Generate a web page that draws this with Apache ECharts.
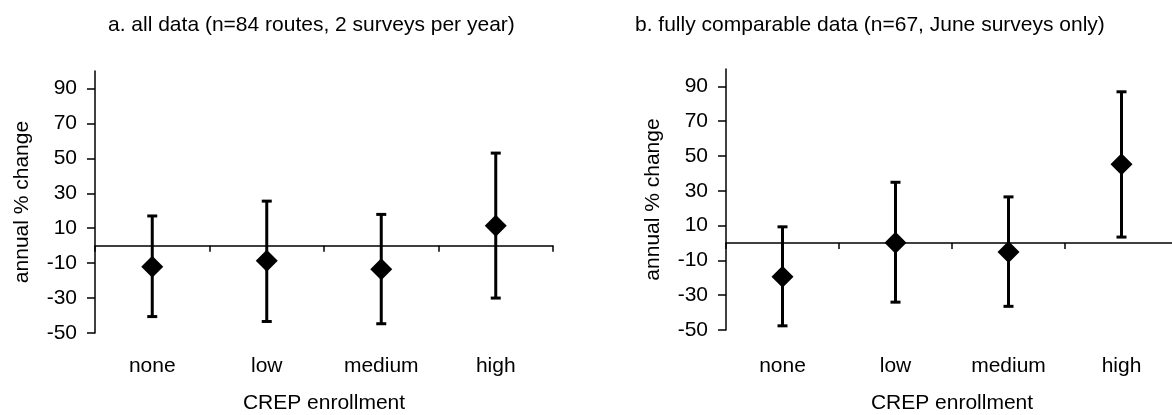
<!DOCTYPE html>
<html>
<head>
<meta charset="utf-8">
<script src="https://cdn.jsdelivr.net/npm/echarts@6/dist/echarts.min.js"></script>
<style>
    html, body { margin: 0; padding: 0; background: #fff; }
    #chart { width: 1172px; height: 415px; }
</style>
</head>
<body>
<div id="chart"></div>
<script>
    // CREP enrollment groups
    const categories = ['none', 'low', 'medium', 'high']
    // a. all data
    const meanA = [-12, -8.7, -13.5, 11.4]
    const lowerA = [-40.6, -43.4, -44.7, -30]
    const upperA = [17, 25.5, 17.9, 53]
    // b. fully comparable data
    const meanB = [-19.4, 0.1, -5.2, 45.2]
    const lowerB = [-47.6, -34, -36.4, 3.4]
    const upperB = [9.3, 34.9, 26.5, 86.9]
    const yTicks = [-50, -30, -10, 10, 30, 50, 70, 90]

    const font = 'Liberation Sans, Arial, sans-serif'
    const fs = 21

    function errorData (lower, upper) {
        return categories.map((c, i) => [i, lower[i], upper[i]])
    }

    function renderError (params, api) {
        let x = api.value(0)
        let top = api.coord([x, api.value(2)])
        let bot = api.coord([x, api.value(1)])
        let half = 5
        let style = {stroke: '#000', lineWidth: 3}
        return {
            type: 'group',
            children: [
                {type: 'line', shape: {x1: top[0], y1: top[1], x2: bot[0], y2: bot[1]}, style: style},
                {type: 'line', shape: {x1: top[0] - half, y1: top[1], x2: top[0] + half, y2: top[1]}, style: style},
                {type: 'line', shape: {x1: bot[0] - half, y1: bot[1], x2: bot[0] + half, y2: bot[1]}, style: style}
            ]
        }
    }

    // line + ticks along zero
    function zeroAxis (grid) {
        return {
            type: 'category',
            gridIndex: grid,
            data: categories,
            boundaryGap: true,
            axisLine: {onZero: true, lineStyle: {color: '#000', width: 1.5}},
            axisTick: {show: true, length: 6, lineStyle: {color: '#000', width: 1.5}},
            axisLabel: {show: false},
            splitLine: {show: false}
        }
    }

    // labels + name at the bottom of the grid
    function labelAxis (grid, margin, gap) {
        return {
            type: 'category',
            gridIndex: grid,
            position: 'bottom',
            data: categories,
            boundaryGap: true,
            axisLine: {show: false, onZero: false},
            axisTick: {show: false},
            axisLabel: {margin: margin, color: '#000', fontSize: fs, fontFamily: font},
            name: 'CREP enrollment',
            nameLocation: 'middle',
            nameGap: gap,
            nameTextStyle: {color: '#000', fontSize: fs, fontFamily: font},
            splitLine: {show: false}
        }
    }

    function yAxis (grid) {
        return {
            type: 'value',
            gridIndex: grid,
            min: -50,
            max: 100,
            axisLine: {show: true, lineStyle: {color: '#000', width: 1.5}},
            axisTick: {show: true, length: 8, customValues: yTicks, lineStyle: {color: '#000', width: 1.5}},
            axisLabel: {margin: 18, customValues: yTicks, color: '#000', fontSize: fs, fontFamily: font},
            splitLine: {show: false},
            name: 'annual % change',
            nameLocation: 'middle',
            nameGap: 62,
            nameTextStyle: {color: '#000', fontSize: fs, fontFamily: font}
        }
    }

    let myChart = echarts.init(document.getElementById('chart'))
    let option = {
        animation: false,
        backgroundColor: '#fff',
        title: [
            {text: 'a. all data (n=84 routes, 2 surveys per year)', left: 103, top: 10,
                textStyle: {fontSize: fs, fontWeight: 'normal', color: '#000', fontFamily: font}},
            {text: 'b. fully comparable data (n=67, June surveys only)', left: 630, top: 10,
                textStyle: {fontSize: fs, fontWeight: 'normal', color: '#000', fontFamily: font}}
        ],
        grid: [
            {left: 95, width: 458, top: 71, height: 262, outerBoundsMode: 'none'},
            {left: 726, width: 452, top: 69, height: 261, outerBoundsMode: 'none'}
        ],
        xAxis: [zeroAxis(0), labelAxis(0, 23, 60), zeroAxis(1), labelAxis(1, 26, 63)],
        yAxis: [yAxis(0), yAxis(1)],
        series: [
            {type: 'custom', xAxisIndex: 0, yAxisIndex: 0, renderItem: renderError, data: errorData(lowerA, upperA), z: 2},
            {type: 'scatter', xAxisIndex: 0, yAxisIndex: 0, symbol: 'diamond', symbolSize: 22,
                itemStyle: {color: '#000', opacity: 1}, data: meanA, z: 3},
            {type: 'custom', xAxisIndex: 2, yAxisIndex: 1, renderItem: renderError, data: errorData(lowerB, upperB), z: 2},
            {type: 'scatter', xAxisIndex: 2, yAxisIndex: 1, symbol: 'diamond', symbolSize: 22,
                itemStyle: {color: '#000', opacity: 1}, data: meanB, z: 3}
        ]
    }
    myChart.setOption(option)
</script>
</body>
</html>
